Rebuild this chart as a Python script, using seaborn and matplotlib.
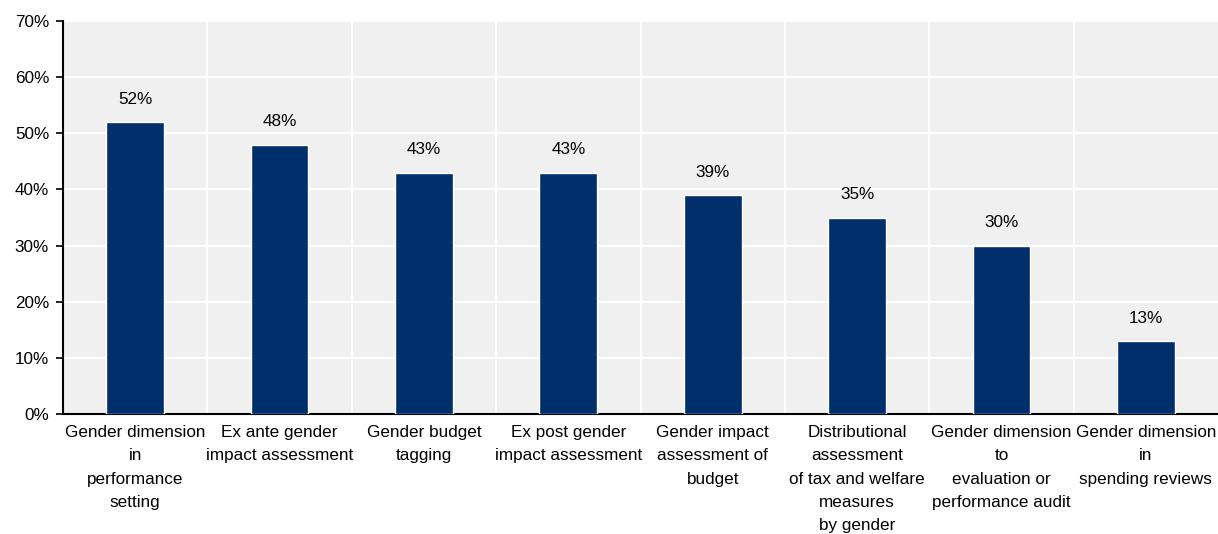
import matplotlib
matplotlib.use("Agg")
import matplotlib.pyplot as plt
import seaborn as sns
import pandas as pd
import numpy as np
from matplotlib.ticker import FixedLocator, PercentFormatter

categories = [
    "Gender dimension\nin\nperformance\nsetting",
    "Ex ante gender\nimpact assessment",
    "Gender budget\ntagging",
    "Ex post gender\nimpact assessment",
    "Gender impact\nassessment of\nbudget",
    "Distributional\nassessment\nof tax and welfare\nmeasures\nby gender",
    "Gender dimension\nto\nevaluation or\nperformance audit",
    "Gender dimension\nin\nspending reviews",
]
values = [52, 48, 43, 43, 39, 35, 30, 13]
y_ticks = [0, 10, 20, 30, 40, 50, 60, 70]

bar_color = "#002F6C"
panel_color = "#F0F0F0"

sns.set_theme(style="white")
font_size = 12.3
plt.rcParams["font.family"] = ["Liberation Sans", "DejaVu Sans"]
plt.rcParams["font.size"] = font_size

df = pd.DataFrame({"category": categories, "value": values})

fig, ax = plt.subplots(figsize=(12.18, 5.34), dpi=100)
fig.subplots_adjust(left=63 / 1218, right=1.0, top=1 - 21 / 534, bottom=1 - 414 / 534)

ax.set_facecolor(panel_color)
sns.barplot(data=df, x="category", y="value", color=bar_color, width=0.4,
            saturation=1, ax=ax, zorder=3)

ax.set_xlim(-0.5, len(categories) - 0.5)
ax.set_ylim(0, 70)
ax.yaxis.set_major_locator(FixedLocator(y_ticks))
ax.yaxis.set_major_formatter(PercentFormatter(decimals=0))

# category separators as white vertical lines, short ticks on the baseline
ax.xaxis.set_minor_locator(FixedLocator(np.arange(0.5, len(categories) - 1, 1.0)))
ax.grid(axis="y", which="major", color="white", linewidth=1.5, zorder=0)
ax.grid(axis="x", which="minor", color="white", linewidth=1.5, zorder=0)
ax.grid(axis="x", which="major", visible=False)
ax.set_axisbelow(True)

ax.tick_params(axis="x", which="major", length=0, pad=8, labelsize=font_size, colors="black")
ax.tick_params(axis="x", which="minor", direction="in", length=5, width=1.2, color="black")
ax.tick_params(axis="y", which="major", direction="out", length=5, width=1.2, pad=5,
               color="black", labelsize=font_size, labelcolor="black", left=True)

for lbl in ax.get_xticklabels():
    lbl.set_ha("center")
    lbl.set_va("top")
    lbl.set_linespacing(1.69)

for s in ["top", "right"]:
    ax.spines[s].set_visible(False)
for s in ["left", "bottom"]:
    ax.spines[s].set_visible(True)
    ax.spines[s].set_color("black")
    ax.spines[s].set_linewidth(1.5)

ax.set_xlabel("")
ax.set_ylabel("")

for i, v in enumerate(values):
    ax.annotate(f"{v}%", (i, v), xytext=(0, 11), textcoords="offset points",
                ha="center", va="bottom", fontsize=font_size, color="black")

fig.savefig("out.png", dpi=100, facecolor="white")
